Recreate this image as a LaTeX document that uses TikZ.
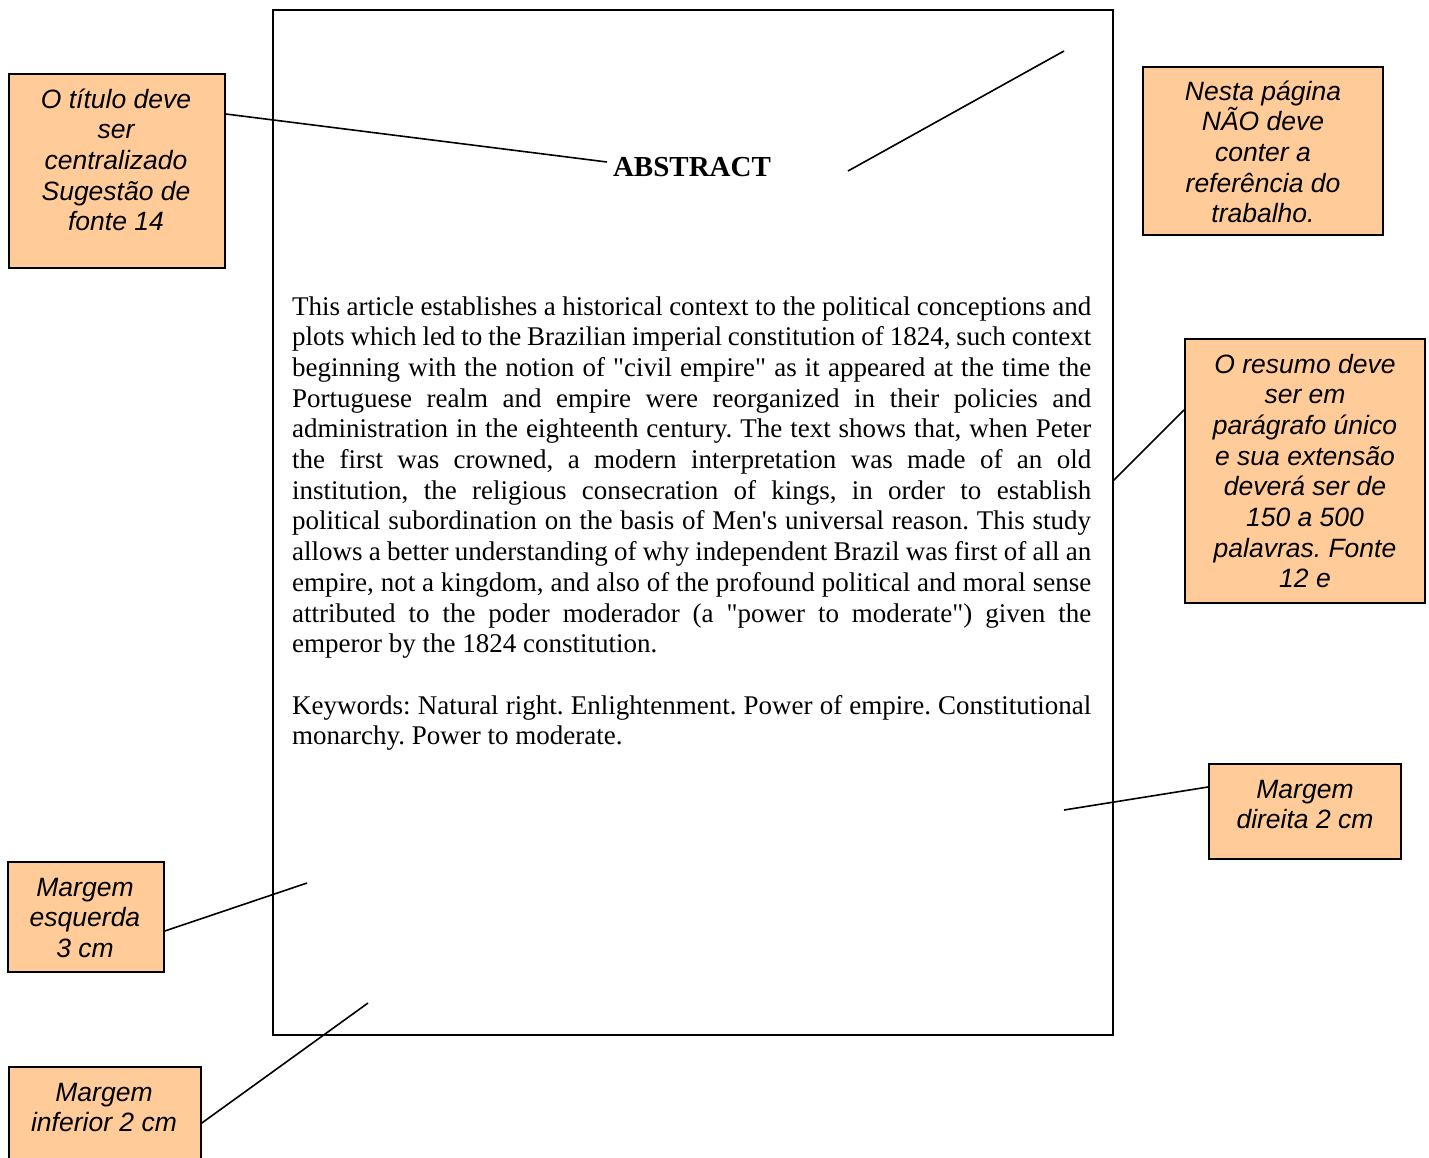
\documentclass[tikz,border=0pt]{standalone}
\usepackage{fontspec}
\newfontfamily\bodyfont{Liberation Serif}[Ligatures=TeXOff]
\newfontfamily\notefont{Liberation Sans}
\definecolor{notefill}{HTML}{FFCC99}
\frenchspacing
\begin{document}
\begin{tikzpicture}[x=1pt,y=-1pt,
  page/.style={draw, line width=1.8pt, inner sep=0pt, anchor=north west},
  callout/.style={draw, line width=1.8pt, fill=notefill, anchor=north west, inner sep=0pt},
  notetext/.style={font=\notefont\itshape\fontsize{26.5}{30.7}\selectfont, align=center, anchor=base, inner sep=0pt},
  bodyline/.style={font=\bodyfont\fontsize{27}{30.7}\selectfont, anchor=base west, inner sep=0pt},
  titletext/.style={font=\bodyfont\bfseries\fontsize{29}{33}\selectfont, anchor=base, inner sep=0pt},
  leader/.style={line width=1.6pt}]
\useasboundingbox (0,0) rectangle (1429,1157);

% the page
\node[page, minimum width=840pt, minimum height=1025pt] (page) at (272,9) {};

% title
\node[titletext] (title) at (692,176) {ABSTRACT};

% abstract body, one justified line per node
\foreach \i/\txt in {
  1/{This article establishes a historical context to the political conceptions and},
  2/{plots which led to the Brazilian imperial constitution of 1824, such context},
  3/{beginning with the notion of "civil empire" as it appeared at the time the},
  4/{Portuguese realm and empire were reorganized in their policies and},
  5/{administration in the eighteenth century. The text shows that, when Peter},
  6/{the first was crowned, a modern interpretation was made of an old},
  7/{institution, the religious consecration of kings, in order to establish},
  8/{political subordination on the basis of Men's universal reason. This study},
  9/{allows a better understanding of why independent Brazil was first of all an},
  10/{empire, not a kingdom, and also of the profound political and moral sense},
  11/{attributed to the poder moderador (a "power to moderate") given the},
  14/{Keywords: Natural right. Enlightenment. Power of empire. Constitutional}}
  \node[bodyline] (line\i) at (292,{315+30.7*(\i-1)}) {\makebox[799pt][s]{\txt}};
\node[bodyline] (line12) at (292,{315+30.7*11}) {emperor by the 1824 constitution.};
\node[bodyline] (line15) at (292,{315+30.7*14}) {monarchy. Power to moderate.};

% callout boxes; each text node is placed by the baseline of its last line
\node[callout, minimum width=216pt, minimum height=194pt] (c1) at (8,73) {};
\node[notetext] (t1) at (116,{108+4*30.7}) {O título deve\\ser\\centralizado\\Sugestão de\\fonte 14};

\node[callout, minimum width=240pt, minimum height=168pt] (c2) at (1142,66) {};
\node[notetext] (t2) at (1263,{100+4*30.7}) {Nesta página\\NÃO deve\\conter a\\referência do\\trabalho.};

\node[callout, minimum width=240pt, minimum height=264pt] (c3) at (1184,338) {};
\node[notetext] (t3) at (1305,{373+7*30.7}) {O resumo deve\\ser em\\parágrafo único\\e sua extensão\\deverá ser de\\150 a 500\\palavras. Fonte\\12 e};

\node[callout, minimum width=192pt, minimum height=95pt] (c4) at (1208,763) {};
\node[notetext] (t4) at (1305,{798+30.7}) {Margem\\direita 2 cm};

\node[callout, minimum width=156pt, minimum height=110pt] (c5) at (7,861) {};
\node[notetext] (t5) at (85,{896+2*30.7}) {Margem\\esquerda\\3 cm};

\node[callout, minimum width=192pt, minimum height=100pt] (c6) at (8,1066) {};
\node[notetext] (t6) at (104,{1101+30.7}) {Margem\\inferior 2 cm};

% free ends of the leader lines
\coordinate (p1) at (607,162);
\coordinate (p2a) at (848,171);
\coordinate (p2b) at (1064,51);
\coordinate (p3) at (1113,481);
\coordinate (p4) at (1064,810);
\coordinate (p5) at (307,883);
\coordinate (p6) at (368,1003);

% leader lines
\draw[leader] (c1.north east) ++(0,41) -- (p1);
\draw[leader] (p2a) -- (p2b);
\draw[leader] (p3) -- ([yshift=-72pt]c3.north west);
\draw[leader] (p4) -- ([yshift=-24pt]c4.north west);
\draw[leader] (c5.north east) ++(0,70) -- (p5);
\draw[leader] (c6.north east) ++(0,57) -- (p6);
\end{tikzpicture}
\end{document}
